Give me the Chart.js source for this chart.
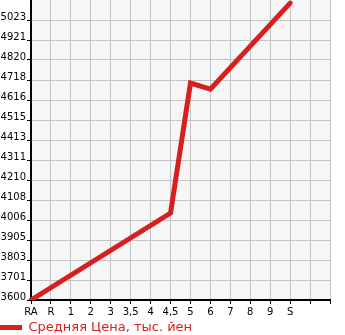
<!DOCTYPE html>
<html>
<head>
<meta charset="utf-8">
<script src="https://cdn.jsdelivr.net/npm/chart.js@4"></script>
<style>
  html, body { margin: 0; padding: 0; background: #fff; }
  #wrap { width: 345px; height: 335px; }
</style>
</head>
<body>
<div id="wrap"><canvas id="myChart" width="345" height="335"></canvas></div>
<script>
// Grades (x axis), last two slots are empty
const grades = ["RA", "R", "1", "2", "3", "3,5", "4", "4,5", "5", "6", "7", "8", "9", "S", "", ""];
// Average price, thousand yen (null = point not marked, line spans over)
const avgPrice = [3600, null, null, null, null, null, null, 4042, 4703, 4672, null, null, null, 5109, null, null];
// Y tick labels as printed on the chart
const yTicks = [3600, 3701, 3803, 3905, 4006, 4108, 4210, 4311, 4413, 4515, 4616, 4718, 4820, 4921, 5023];
const yMin = 3600;
const yMax = 5125;
const seriesName = "Средняя Цена, тыс. йен";

const RED = "#d71f1f";
const FONT = "'DejaVu Sans', sans-serif";

// fill the plot area with light gray
const plotBg = {
  id: "plotBg",
  beforeDraw(chart) {
    const { ctx, chartArea: a } = chart;
    ctx.save();
    ctx.fillStyle = "#f6f6f6";
    ctx.fillRect(a.left, a.top, a.right - a.left, a.bottom - a.top);
    ctx.restore();
  },
};

const ctx = document.getElementById("myChart").getContext("2d");
new Chart(ctx, {
  type: "line",
  data: {
    labels: grades,
    datasets: [
      {
        label: seriesName,
        data: avgPrice,
        borderColor: RED,
        backgroundColor: RED,
        borderWidth: 5,
        borderCapStyle: "round",
        borderJoinStyle: "miter",
        pointRadius: 0,
        tension: 0,
        spanGaps: true,
      },
    ],
  },
  options: {
    responsive: false,
    animation: false,
    layout: { padding: { left: 0, right: 15, top: 0, bottom: -9 } },
    plugins: {
      tooltip: { enabled: false },
      legend: {
        position: "bottom",
        align: "start",
        labels: {
          color: RED,
          font: { family: FONT, size: 13 },
          boxWidth: 22,
          boxHeight: 5,
          padding: 0,
          generateLabels: (chart) => [
            {
              text: seriesName,
              fillStyle: RED,
              strokeStyle: RED,
              lineWidth: 0,
              fontColor: RED,
              datasetIndex: 0,
            },
          ],
        },
      },
    },
    scales: {
      x: {
        offset: false,
        grid: { color: "#c3c3c3", lineWidth: 1, tickColor: "#000", tickLength: 4 },
        border: { color: "#000", width: 2 },
        ticks: {
          color: "#000",
          font: { family: FONT, size: 10 },
          maxRotation: 0,
          autoSkip: false,
          padding: 2,
        },
        afterFit: (scale) => {
          scale.height = 21;
          scale.paddingLeft = 0;
          scale.paddingRight = 0;
        },
      },
      y: {
        min: yMin,
        max: yMax,
        grid: { color: "#c3c3c3", lineWidth: 1, tickColor: "#000", tickLength: 4 },
        border: { color: "#000", width: 2 },
        afterBuildTicks: (scale) => {
          scale.ticks = yTicks.map((v) => ({ value: v }));
        },
        ticks: {
          color: "#000",
          font: { family: FONT, size: 10, lineHeight: 0.6 },
          padding: 1,
          // empty second line lifts the label a few px above its grid line
          callback: (v) => [String(v), ""],
        },
        afterFit: (scale) => {
          scale.width = 31;
          scale.paddingTop = 0;
          scale.paddingBottom = 0;
        },
      },
    },
  },
  plugins: [plotBg],
});
</script>
</body>
</html>
